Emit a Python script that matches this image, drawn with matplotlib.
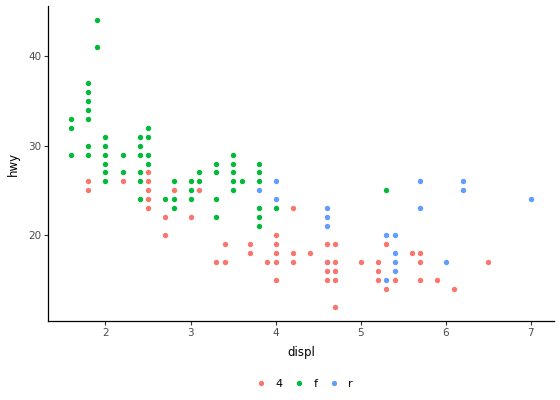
import matplotlib
matplotlib.use("Agg")
import matplotlib.pyplot as plt
from matplotlib.lines import Line2D

# displ / hwy pairs by drive type
displ_4 = [1.8, 1.8, 2.2, 2.5, 2.5, 2.5, 2.5, 2.5, 2.7, 2.7, 2.8, 3.0, 3.1,
           3.3, 3.4, 3.4, 3.7, 3.7, 3.9, 4.0, 4.0, 4.0, 4.0, 4.0, 4.2, 4.2,
           4.2, 4.4, 4.6, 4.6, 4.6, 4.6, 4.7, 4.7, 4.7, 4.7, 4.7, 5.0, 5.2,
           5.2, 5.2, 5.3, 5.3, 5.4, 5.6, 5.7, 5.7, 5.7, 5.9, 6.1, 6.5]
hwy_4 = [26, 25, 26, 27, 26, 25, 24, 23, 22, 20, 25, 22, 25,
         17, 19, 17, 19, 18, 17, 20, 19, 18, 17, 15, 23, 18,
         17, 18, 19, 17, 16, 15, 19, 17, 16, 15, 12, 17, 17,
         16, 15, 19, 14, 15, 18, 18, 17, 15, 15, 14, 17]

displ_f = [1.6, 1.6, 1.6, 1.8, 1.8, 1.8, 1.8, 1.8, 1.8, 1.8, 1.9, 1.9, 2.0,
           2.0, 2.0, 2.0, 2.0, 2.0, 2.2, 2.2, 2.4, 2.4, 2.4, 2.4, 2.4, 2.4,
           2.5, 2.5, 2.5, 2.5, 2.7, 2.8, 2.8, 2.8, 3.0, 3.0, 3.0, 3.1, 3.1,
           3.3, 3.3, 3.3, 3.3, 3.5, 3.5, 3.5, 3.5, 3.5, 3.6, 3.8, 3.8, 3.8,
           3.8, 3.8, 3.8, 4.0, 5.3]
hwy_f = [33, 32, 29, 37, 36, 35, 34, 33, 30, 29, 44, 41, 31,
         30, 29, 28, 27, 26, 29, 27, 31, 30, 29, 27, 26, 24,
         32, 31, 29, 28, 24, 26, 24, 23, 26, 25, 24, 27, 26,
         28, 27, 24, 22, 29, 28, 27, 26, 25, 26, 28, 27, 26,
         23, 22, 21, 23, 25]

displ_r = [3.8, 4.0, 4.0, 4.6, 4.6, 4.6, 4.6, 5.3, 5.3, 5.4, 5.4, 5.4, 5.4,
           5.7, 5.7, 6.0, 6.2, 6.2, 7.0]
hwy_r = [25, 26, 24, 23, 22, 21, 17, 20, 15, 20, 18, 17, 16,
         26, 23, 17, 26, 25, 24]

drv_labels = ["4", "f", "r"]
colors = {"4": "#F8766D", "f": "#00BA38", "r": "#619CFF"}

fig = plt.figure(figsize=(5.6, 4.0), dpi=100)
ax = fig.add_axes([0.0866, 0.1975, 0.9024, 0.7875])

ax.scatter(displ_f, hwy_f, s=15, color=colors["f"], linewidths=0, zorder=2)
ax.scatter(displ_r, hwy_r, s=15, color=colors["r"], linewidths=0, zorder=3)
ax.scatter(displ_4, hwy_4, s=15, color=colors["4"], linewidths=0, zorder=4)

all_x = displ_4 + displ_f + displ_r
all_y = hwy_4 + hwy_f + hwy_r
xr = max(all_x) - min(all_x)
yr = max(all_y) - min(all_y)
ax.set_xlim(min(all_x) - 0.05 * xr, max(all_x) + 0.05 * xr)
ax.set_ylim(min(all_y) - 0.05 * yr, max(all_y) + 0.05 * yr)

ax.set_xticks([2, 3, 4, 5, 6, 7])
ax.set_yticks([20, 30, 40])
ax.tick_params(axis="both", colors="#333333", labelcolor="#4D4D4D",
               labelsize=7.5, length=3, width=0.8, pad=2)

for side in ["top", "right"]:
    ax.spines[side].set_visible(False)
for side in ["left", "bottom"]:
    ax.spines[side].set_linewidth(0.9)
    ax.spines[side].set_color("black")

ax.set_xlabel("displ", fontsize=8.5, color="black", labelpad=6)
ax.set_ylabel("hwy", fontsize=8.5, color="black", labelpad=6)

handles = [Line2D([], [], marker="o", linestyle="", markersize=3.8,
                  markerfacecolor=colors[d], markeredgewidth=0)
           for d in drv_labels]
fig.legend(handles, drv_labels, loc="center", bbox_to_anchor=(0.543, 0.04),
           ncol=3, frameon=False, fontsize=8, handletextpad=0.8,
           columnspacing=1.0, handlelength=1.0)

fig.savefig("out.png", dpi=100)
